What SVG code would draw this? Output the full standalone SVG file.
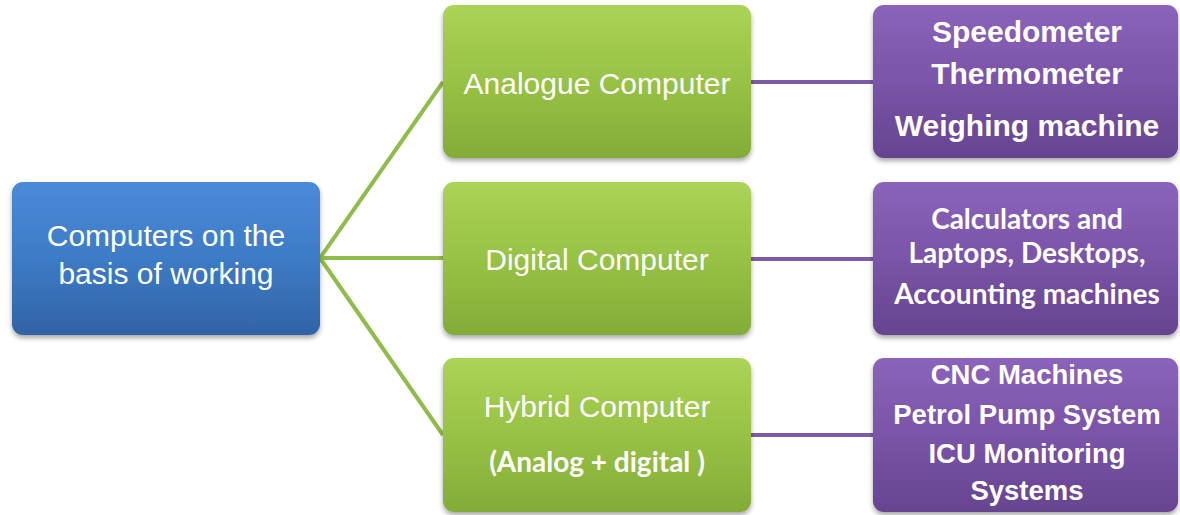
<svg xmlns="http://www.w3.org/2000/svg" width="1180" height="515" viewBox="0 0 1180 515">
<defs>
<linearGradient id="gBlue" x1="0" y1="0" x2="0" y2="1">
<stop offset="0" stop-color="#4a8ad8"/><stop offset="0.5" stop-color="#3d7bc6"/><stop offset="1" stop-color="#3263a5"/>
</linearGradient>
<linearGradient id="gGreen" x1="0" y1="0" x2="0" y2="1">
<stop offset="0" stop-color="#abd356"/><stop offset="0.5" stop-color="#98c245"/><stop offset="1" stop-color="#82ac38"/>
</linearGradient>
<linearGradient id="gPurple" x1="0" y1="0" x2="0" y2="1">
<stop offset="0" stop-color="#8b63bb"/><stop offset="0.5" stop-color="#7a54a8"/><stop offset="1" stop-color="#664490"/>
</linearGradient>
<filter id="sh" x="-10%" y="-10%" width="120%" height="130%">
<feDropShadow dx="0" dy="3" stdDeviation="2.5" flood-color="#000" flood-opacity="0.35"/>
</filter>
<style>
.box{filter:url(#sh)}
.t{fill:#fff;font-family:"Liberation Sans",Arial,sans-serif;text-anchor:middle}
.tb{fill:#fff;font-family:"Liberation Sans",Arial,sans-serif;font-weight:bold;text-anchor:middle}
.tc{fill:#fff;font-family:Lato,"Open Sans",sans-serif;font-weight:bold;text-anchor:middle}
.gl{stroke:#8fbc4a;stroke-width:4;fill:none}
.pl{stroke:#7d5aa6;stroke-width:4;fill:none}
</style>
</defs>
<g id="connectors">
<line class="gl" x1="320" y1="258" x2="443" y2="82"/>
<line class="gl" x1="320" y1="258" x2="443" y2="258"/>
<line class="gl" x1="320" y1="258" x2="443" y2="435"/>
<line class="pl" x1="750" y1="82" x2="873" y2="82"/>
<line class="pl" x1="750" y1="259" x2="873" y2="259"/>
<line class="pl" x1="750" y1="435" x2="873" y2="435"/>
</g>
<g id="root">
<rect class="box" x="12" y="182" width="308" height="153" rx="11" fill="url(#gBlue)"/>
<text class="t" font-size="30" x="166" y="246">Computers on the</text>
<text class="t" font-size="30" x="166" y="284">basis of working</text>
</g>
<g id="analogue">
<rect class="box" x="443" y="5" width="308" height="153" rx="11" fill="url(#gGreen)"/>
<text class="t" font-size="30" x="597" y="94">Analogue Computer</text>
</g>
<g id="digital">
<rect class="box" x="443" y="182" width="308" height="153" rx="11" fill="url(#gGreen)"/>
<text class="t" font-size="30" x="597" y="270">Digital Computer</text>
</g>
<g id="hybrid">
<rect class="box" x="443" y="358" width="308" height="154" rx="11" fill="url(#gGreen)"/>
<text class="t" font-size="30" x="597" y="417">Hybrid Computer</text>
<text class="tc" font-size="28" x="597" y="472">(Analog + digital )</text>
</g>
<g id="analogue-examples">
<rect class="box" x="873" y="5" width="305" height="153" rx="11" fill="url(#gPurple)"/>
<text class="tb" font-size="30" x="1027" y="42">Speedometer</text>
<text class="tb" font-size="30" x="1027" y="84">Thermometer</text>
<text class="tb" font-size="30" x="1027" y="136">Weighing machine</text>
</g>
<g id="digital-examples">
<rect class="box" x="873" y="182" width="305" height="153" rx="11" fill="url(#gPurple)"/>
<text class="tc" font-size="28" x="1027" y="229">Calculators and</text>
<text class="tc" font-size="28" x="1027" y="263">Laptops, Desktops,</text>
<text class="tc" font-size="28" x="1027" y="304">Accounting machines</text>
</g>
<g id="hybrid-examples">
<rect class="box" x="873" y="358" width="305" height="154" rx="11" fill="url(#gPurple)"/>
<text class="tb" font-size="27.5" x="1027" y="384">CNC Machines</text>
<text class="tb" font-size="27.5" x="1027" y="424">Petrol Pump System</text>
<text class="tb" font-size="27.5" x="1027" y="463">ICU Monitoring</text>
<text class="tb" font-size="27.5" x="1027" y="500">Systems</text>
</g>
</svg>
